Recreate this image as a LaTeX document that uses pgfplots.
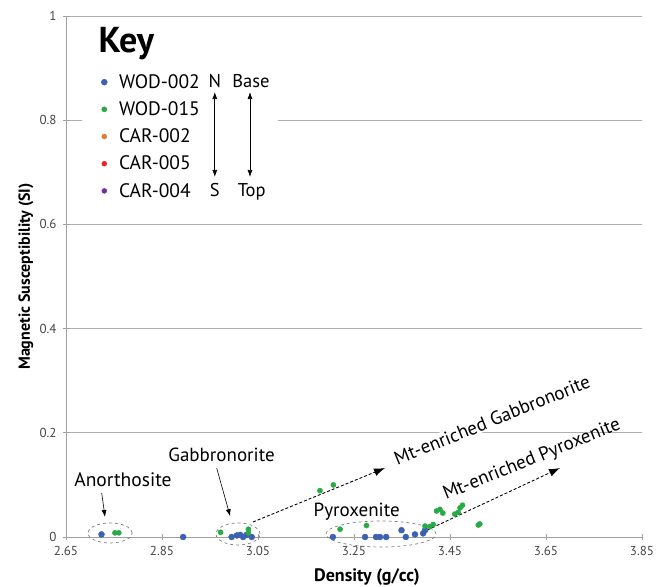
\documentclass[border=0pt]{standalone}
\usepackage{pgfplots}
\pgfplotsset{compat=1.18}
\usepackage{fontspec}
\setmainfont{PT Sans}
\usetikzlibrary{arrows.meta}
\definecolor{wblue}{RGB}{59,97,176}
\definecolor{wgreen}{RGB}{40,170,70}
\definecolor{corange}{RGB}{220,125,55}
\definecolor{cred}{RGB}{235,35,40}
\definecolor{cpurple}{RGB}{112,48,160}
\definecolor{gridgray}{RGB}{175,175,175}
\definecolor{axisgray}{RGB}{160,160,160}
\definecolor{labelgray}{RGB}{70,70,70}
\begin{document}
\begin{tikzpicture}
\path[use as bounding box] (-66pt,-49pt) rectangle (600pt,537pt);
\begin{axis}[
  at={(0pt,0pt)}, anchor=south west,
  scale only axis, width=576pt, height=521pt,
  xmin=2.65, xmax=3.85, ymin=0, ymax=1,
  xtick={2.65,2.85,3.05,3.25,3.45,3.65,3.85},
  xticklabels={2.65,2.85,3.05,3.25,3.45,3.65,3.85},
  ytick={0,0.2,0.4,0.6,0.8,1},
  yticklabels={0,0.2,0.4,0.6,0.8,1},
  axis x line*=bottom, axis y line*=left,
  ymajorgrids, grid style={color=gridgray, line width=0.9pt},
  axis line style={color=axisgray, line width=0.8pt},
  tick style={color=axisgray, line width=0.8pt},
  tick align=center, major tick length=6pt,
  ticklabel style={font=\fontsize{13}{15}\selectfont, text=labelgray},
  xticklabel style={yshift=-3pt},
  yticklabel style={xshift=-3pt},
  clip=false,
  xlabel={Density (g/cc)},
  ylabel={Magnetic Susceptibility (SI)},
  xlabel style={at={(axis description cs:0.5226,-0.077)}, anchor=center, font=\bfseries\fontsize{18}{21}\selectfont},
  ylabel style={at={(axis description cs:-0.0694,0.5)}, anchor=center, rotate=0, font=\bfseries\fontsize{16}{19}\selectfont},
  legend style={at={(axis cs:2.7225,0.892)}, anchor=north west, draw=none, fill=none,
    font=\fontsize{19.5}{22}\selectfont, row sep=7.8pt, inner sep=0pt},
  legend cell align=left,
  legend image code/.code={\draw[mark repeat=2,mark phase=2,#1] plot coordinates {(0pt,0pt) (3pt,0pt) (6pt,0pt)}; \node[draw=none, fill=none, inner sep=0pt, minimum width=16pt, minimum height=1pt, anchor=west] at (-0.5pt,0pt) {};},
]
\addplot[only marks, mark=*, mark size=3pt, color=wblue] coordinates {
(2.724,0.005) (2.894,0.000) (2.995,0.000) (3.006,0.003) (3.013,0.004)
(3.019,0.000) (3.026,0.004) (3.037,0.000) (3.206,0.000) (3.273,0.000)
(3.296,0.000) (3.304,0.000) (3.317,0.000) (3.349,0.013) (3.358,0.000)
(3.377,0.005) (3.394,0.007) (3.398,0.013)
};
\addplot[only marks, mark=*, mark size=2.6pt, color=wgreen] coordinates {
(2.752,0.008) (2.760,0.008) (2.972,0.009) (3.030,0.015) (3.030,0.008)
(3.179,0.089) (3.207,0.100) (3.221,0.015) (3.276,0.022) (3.398,0.021)
(3.408,0.020) (3.415,0.024) (3.429,0.053) (3.435,0.046) (3.422,0.050)
(3.460,0.044) (3.467,0.047) (3.471,0.056) (3.476,0.061) (3.509,0.023) (3.512,0.025)
};
% key box
\fill[white] (axis cs:2.6833,0.9885) rectangle (axis cs:3.0917,0.6276);
\node[anchor=base west, font=\bfseries\fontsize{36}{40}\selectfont] at (axis cs:2.7104,0.929) {Key};
\node[anchor=base, font=\fontsize{18.5}{21}\selectfont] at (axis cs:2.96,0.8637) {N};
\node[anchor=base, font=\fontsize{18.5}{21}\selectfont] at (axis cs:3.0354,0.8637) {Base};
\node[anchor=base, font=\fontsize{18.5}{21}\selectfont] at (axis cs:2.96,0.6545) {S};
\node[anchor=base, font=\fontsize{18.5}{21}\selectfont] at (axis cs:3.0368,0.6545) {Top};
\draw[{Latex[length=7pt,width=5pt]}-{Latex[length=7pt,width=5pt]}, line width=0.7pt] (axis cs:2.96,0.8541) -- (axis cs:2.96,0.6910);
\draw[{Latex[length=7pt,width=5pt]}-{Latex[length=7pt,width=5pt]}, line width=0.7pt] (axis cs:3.0333,0.8541) -- (axis cs:3.0333,0.6910);
% ellipses
\draw[dashed, gray, line width=0.7pt] (axis cs:2.7417,0.0077) ellipse [x radius=22pt, y radius=10pt];
\draw[dashed, gray, line width=0.7pt] (axis cs:3.0083,0.0058) ellipse [x radius=22pt, y radius=11pt];
\draw[dashed, gray, line width=0.7pt] (axis cs:3.30625,0.0058) ellipse [x radius=55pt, y radius=13pt];
% labels and arrows
\node[font=\fontsize{19.5}{22}\selectfont] at (axis cs:2.76875,0.1094) {Anorthosite};
\draw[-{Latex[length=7pt,width=5pt]}, line width=0.6pt] (axis cs:2.7244,0.0845) -- (axis cs:2.73125,0.0384);
\node[font=\fontsize{19}{22}\selectfont] at (axis cs:2.974,0.157) {Gabbronorite};
\draw[-{Latex[length=7pt,width=5pt]}, line width=0.6pt] (axis cs:2.964,0.132) -- (axis cs:2.992,0.040);
\node[font=\fontsize{19}{22}\selectfont] at (axis cs:3.2556,0.0486) {Pyroxenite};
\draw[densely dashed, line width=0.9pt, -{Latex[length=11pt,width=8pt]}] (axis cs:3.0396,0.0288) -- (axis cs:3.3146,0.1324);
\draw[densely dashed, line width=0.9pt, -{Latex[length=11pt,width=8pt]}] (axis cs:3.3938,0.0096) -- (axis cs:3.6792,0.1324);
\node[font=\fontsize{19}{22}\selectfont, rotate=22, fill=white, inner sep=1pt] at (axis cs:3.5375,0.2246) {Mt-enriched Gabbronorite};
\node[font=\fontsize{19}{22}\selectfont, rotate=22] at (axis cs:3.6208,0.1478) {Mt-enriched Pyroxenite};
\legend{WOD-002,WOD-015,CAR-002,CAR-005,CAR-004}
\addlegendimage{only marks, mark=*, mark size=2.5pt, color=corange}
\addlegendimage{only marks, mark=*, mark size=2.5pt, color=cred}
\addlegendimage{only marks, mark=*, mark size=2.5pt, color=cpurple}
\end{axis}
\end{tikzpicture}
\end{document}
